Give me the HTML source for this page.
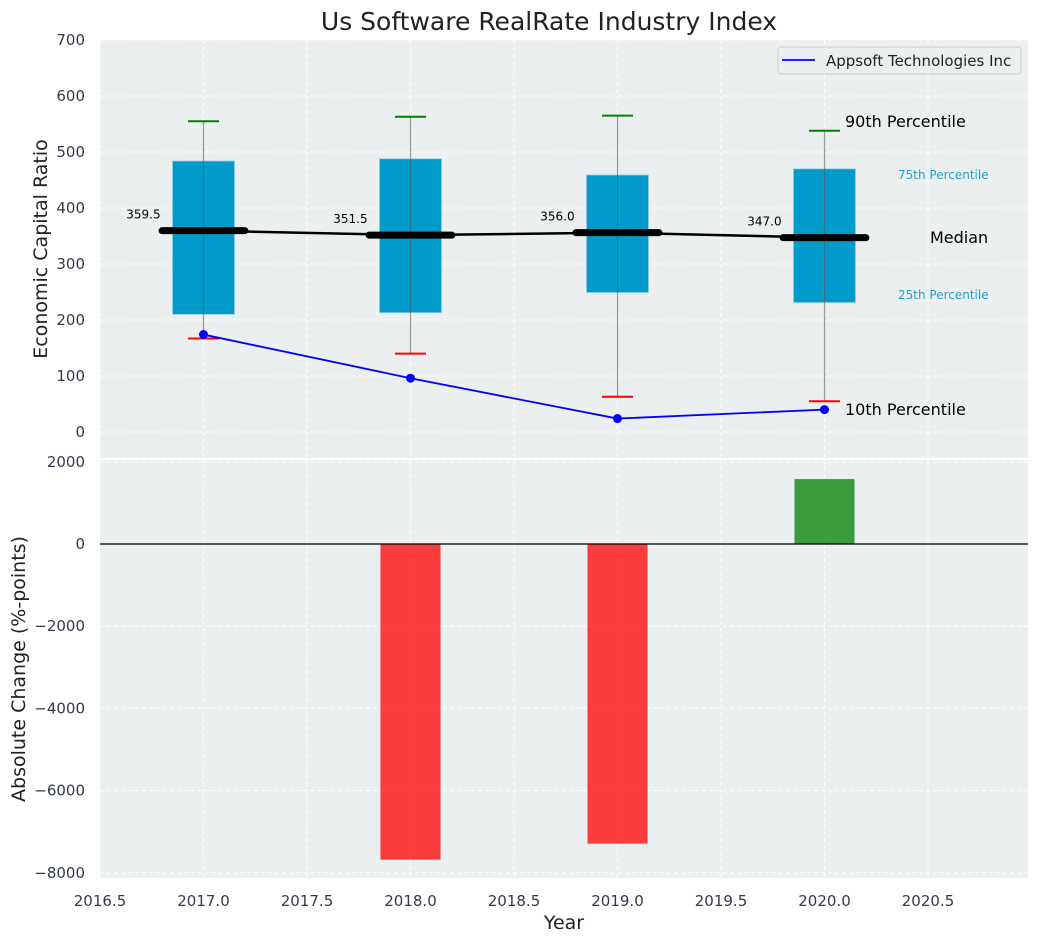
<!DOCTYPE html>
<html><head><meta charset="utf-8"><style>
body{margin:0;background:#fff;font-family:"Liberation Sans","DejaVu Sans",sans-serif}
svg text{font-family:"DejaVu Sans","Liberation Sans",sans-serif}
</style></head><body>
<svg id="c" width="1039" height="942" xmlns="http://www.w3.org/2000/svg"></svg>
<script>
const years=[2017,2018,2019,2020];
const q25=[210,213,249,231];
const q75=[484,488,459,470];
const p10=[167,140,63,55];
const p90=[555,563,565,538];
const medians=[359.5,351.5,356.0,347.0];
const company=[174,96,24,40];
const changes=[0,-7680,-7290,1580];
const xTicks=[2016.5,2017.0,2017.5,2018.0,2018.5,2019.0,2019.5,2020.0,2020.5];
const yTopTicks=[0,100,200,300,400,500,600,700];
const yBotTicks=[-8000,-6000,-4000,-2000,0,2000];

const svg=document.getElementById('c');const NS='http://www.w3.org/2000/svg';
function el(t,a,p){const e=document.createElementNS(NS,t);for(const k in a)e.setAttribute(k,a[k]);(p||svg).appendChild(e);return e;}
const L=100,R=1028;
const X=v=>L+(v-2016.5)*207;
const T0=40,T1=458,B0=460,B1=878;
const YT=v=>432-v*0.56;
const YB=v=>544-v*0.0411;

let t=el('text',{x:549,y:30,'font-size':25,'text-anchor':'middle',fill:'#222'});t.textContent='Us Software RealRate Industry Index';


let p=el('rect',{x:L,y:T0,width:R-L,height:T1-T0,fill:'#eceff0'});

p=el('rect',{x:L,y:B0,width:R-L,height:B1-B0,fill:'#eceff0'});


xTicks.forEach(v=>{[[T0,T1],[B0,B1]].forEach(r=>{el('line',{x1:X(v),x2:X(v),y1:r[0],y2:r[1],stroke:'#fff','stroke-dasharray':'4,3','stroke-width':1});});
 let tx=el('text',{x:X(v),y:906,'font-size':15,'text-anchor':'middle',fill:'#333a48'});tx.textContent=v.toFixed(1);
 });
yTopTicks.forEach(v=>{el('line',{x1:L,x2:R,y1:YT(v),y2:YT(v),stroke:'#fff','stroke-dasharray':'4,3'});
 let tx=el('text',{x:85,y:YT(v)+5,'font-size':15,'text-anchor':'end',fill:'#333a48'});tx.textContent=v;
 });
yBotTicks.forEach(v=>{el('line',{x1:L,x2:R,y1:YB(v),y2:YB(v),stroke:'#fff','stroke-dasharray':'4,3'});
 let tx=el('text',{x:85,y:YB(v)+5,'font-size':15,'text-anchor':'end',fill:'#333a48'});tx.textContent=(v<0?'−':'')+Math.abs(v);
 });

years.forEach((y,i)=>{
 let b=el('rect',{x:X(y-0.15),y:YT(q75[i]),width:X(y+0.15)-X(y-0.15),height:YT(q25[i])-YT(q75[i]),fill:'#009bcb',stroke:'#9fd4e8','stroke-width':0.8});
 
 let w=el('line',{x1:X(y),x2:X(y),y1:YT(p90[i]),y2:YT(p10[i]),stroke:'#555','stroke-opacity':0.6,'stroke-width':1.2});
 
 let c=el('line',{x1:X(y-0.075),x2:X(y+0.075),y1:YT(p90[i]),y2:YT(p90[i]),stroke:'green','stroke-width':2});
 
 c=el('line',{x1:X(y-0.075),x2:X(y+0.075),y1:YT(p10[i]),y2:YT(p10[i]),stroke:'red','stroke-width':2});
 
});
let mp=el('polyline',{points:years.map((y,i)=>X(y)+','+YT(medians[i])).join(' '),fill:'none',stroke:'#000','stroke-width':2.5});

years.forEach((y,i)=>{
 let m=el('line',{x1:X(y-0.2),x2:X(y+0.2),y1:YT(medians[i]),y2:YT(medians[i]),stroke:'#000','stroke-width':7,'stroke-linecap':'round'});
 
 let tx=el('text',{x:X(y-0.29),y:YT(medians[i])-12,'font-size':12,'text-anchor':'middle',fill:'#000'});tx.textContent=medians[i].toFixed(1);
 
});
let cl=el('polyline',{points:years.map((y,i)=>X(y)+','+YT(company[i])).join(' '),fill:'none',stroke:'#0000ff','stroke-width':1.8});

years.forEach((y,i)=>{let d=el('circle',{cx:X(y),cy:YT(company[i]),r:4.5,fill:'#0000ff'});
 });

const ann=[[845,127,'90th Percentile',16,'#000'],[898,179,'75th Percentile',12,'#1ba3cf'],[930,243,'Median',16,'#000'],[898,299,'25th Percentile',12,'#1ba3cf'],[845,415,'10th Percentile',16,'#000']];
ann.forEach(a=>{let tx=el('text',{x:a[0],y:a[1],'font-size':a[3],fill:a[4]});tx.textContent=a[2];
 });

let lg=el('g',{});
el('rect',{x:778,y:47,width:243,height:27,rx:3,fill:'#eceff0',stroke:'#ccc'},lg);
el('line',{x1:782,x2:815,y1:60,y2:60,stroke:'#0000ff','stroke-width':1.8},lg);
let lt=el('text',{x:826,y:66,'font-size':15,fill:'#222'},lg);lt.textContent='Appsoft Technologies Inc';

years.forEach((y,i)=>{const v=changes[i];if(!v)return;
 let b=el('rect',{x:X(y-0.145),y:Math.min(YB(0),YB(v)),width:X(y+0.145)-X(y-0.145),height:Math.abs(YB(v)-YB(0)),fill:v<0?'#ff0000':'#008000','fill-opacity':0.75});
 });
el('line',{x1:L,x2:R,y1:YB(0),y2:YB(0),stroke:'#000','stroke-width':1.2});

t=el('text',{x:564,y:929,'font-size':19,'text-anchor':'middle',fill:'#222'});t.textContent='Year';

t=el('text',{x:0,y:0,'font-size':19,'text-anchor':'middle',fill:'#222',transform:'translate(47,249) rotate(-90)'});t.textContent='Economic Capital Ratio';

t=el('text',{x:0,y:0,'font-size':19,'text-anchor':'middle',fill:'#222',transform:'translate(25,669) rotate(-90)'});t.textContent='Absolute Change (%-points)';

</script>
</body></html>
